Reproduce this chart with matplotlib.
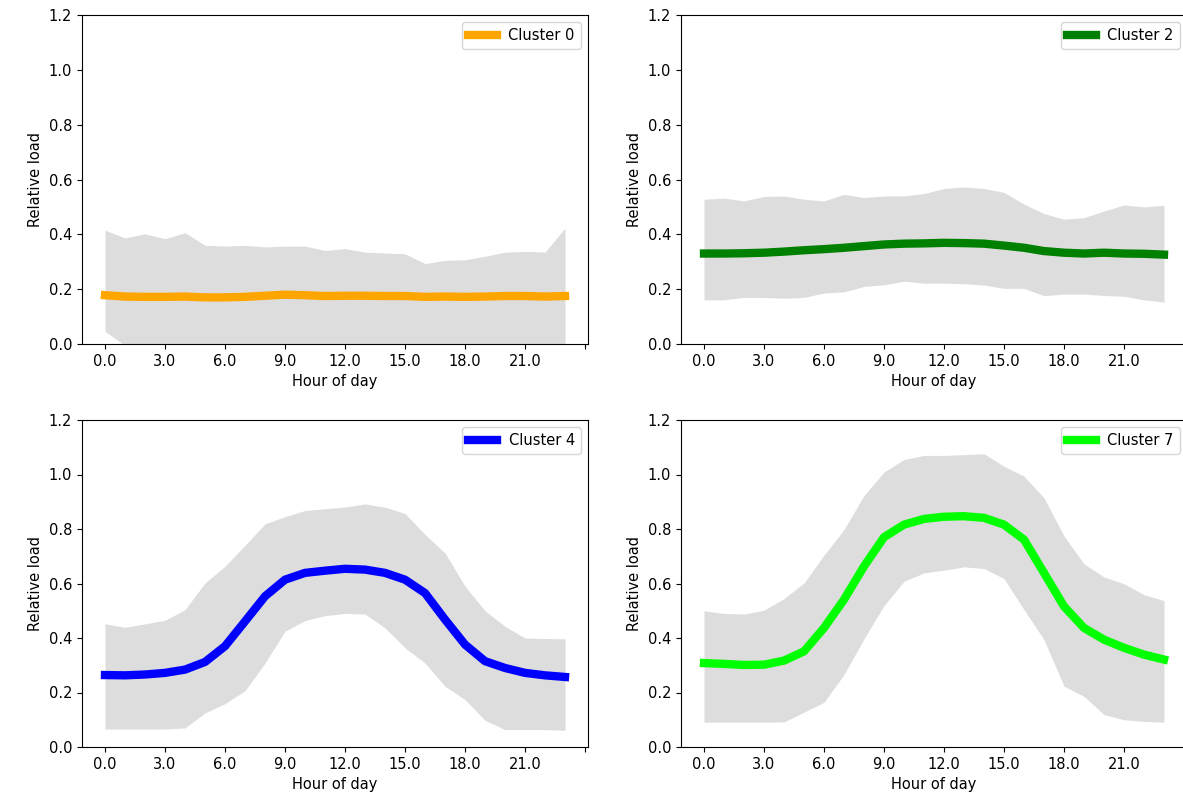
import numpy as np
import matplotlib
matplotlib.use('Agg')
import matplotlib.pyplot as plt

plt.rcParams['font.size'] = 10.5

hours = list(range(24))

# Cluster 0
mean_c0 = [0.178, 0.173, 0.172, 0.172, 0.173, 0.170, 0.170, 0.172, 0.176, 0.180, 0.178, 0.175,
           0.176, 0.176, 0.175, 0.175, 0.172, 0.173, 0.172, 0.173, 0.175, 0.175, 0.173, 0.175]
upper_c0 = [0.415, 0.387, 0.402, 0.384, 0.406, 0.360, 0.357, 0.360, 0.354, 0.357, 0.357, 0.341,
            0.348, 0.335, 0.332, 0.329, 0.293, 0.305, 0.307, 0.320, 0.335, 0.338, 0.335, 0.423]
lower_c0 = [0.046, -0.005, -0.02, -0.02, -0.02, -0.02, -0.02, -0.02, -0.02, -0.02, -0.02, -0.02,
            -0.02, -0.02, -0.02, -0.02, -0.02, -0.02, -0.02, -0.02, -0.02, -0.02, -0.02, -0.02]

# Cluster 2
mean_c2 = [0.330, 0.330, 0.331, 0.333, 0.337, 0.342, 0.346, 0.351, 0.357, 0.363, 0.366, 0.367,
           0.369, 0.368, 0.366, 0.359, 0.351, 0.339, 0.333, 0.330, 0.333, 0.330, 0.329, 0.326]
upper_c2 = [0.528, 0.532, 0.522, 0.538, 0.540, 0.528, 0.522, 0.546, 0.534, 0.540, 0.540, 0.549,
            0.567, 0.573, 0.567, 0.553, 0.510, 0.476, 0.455, 0.461, 0.485, 0.507, 0.500, 0.506]
lower_c2 = [0.161, 0.161, 0.170, 0.170, 0.167, 0.170, 0.186, 0.190, 0.210, 0.216, 0.229, 0.222,
            0.222, 0.220, 0.215, 0.203, 0.203, 0.176, 0.182, 0.182, 0.177, 0.174, 0.161, 0.153]

# Cluster 4
mean_c4 = [0.264, 0.263, 0.266, 0.272, 0.284, 0.312, 0.370, 0.461, 0.553, 0.614, 0.639, 0.647,
           0.654, 0.651, 0.639, 0.614, 0.565, 0.468, 0.376, 0.315, 0.290, 0.272, 0.263, 0.257]
upper_c4 = [0.452, 0.439, 0.452, 0.465, 0.504, 0.602, 0.663, 0.740, 0.819, 0.845, 0.868, 0.874,
            0.881, 0.892, 0.880, 0.857, 0.780, 0.712, 0.590, 0.500, 0.443, 0.400, 0.398, 0.397]
lower_c4 = [0.066, 0.066, 0.066, 0.066, 0.070, 0.125, 0.159, 0.207, 0.308, 0.425, 0.464, 0.482,
            0.490, 0.488, 0.437, 0.364, 0.308, 0.223, 0.174, 0.098, 0.064, 0.064, 0.064, 0.061]

# Cluster 7
mean_c7 = [0.308, 0.305, 0.301, 0.302, 0.317, 0.351, 0.437, 0.541, 0.663, 0.770, 0.816, 0.837,
           0.845, 0.847, 0.841, 0.816, 0.761, 0.639, 0.516, 0.437, 0.394, 0.364, 0.339, 0.321]
upper_c7 = [0.500, 0.490, 0.488, 0.502, 0.545, 0.602, 0.704, 0.798, 0.923, 1.009, 1.055, 1.070,
            1.070, 1.073, 1.076, 1.030, 0.994, 0.914, 0.774, 0.672, 0.624, 0.599, 0.559, 0.537]
lower_c7 = [0.091, 0.091, 0.091, 0.091, 0.092, 0.128, 0.164, 0.266, 0.397, 0.519, 0.608, 0.639,
            0.649, 0.661, 0.655, 0.618, 0.504, 0.394, 0.223, 0.186, 0.119, 0.100, 0.094, 0.091]

clusters = ['Cluster 0', 'Cluster 2', 'Cluster 4', 'Cluster 7']
colors = ['orange', 'green', 'blue', 'lime']
means = [mean_c0, mean_c2, mean_c4, mean_c7]
uppers = [upper_c0, upper_c2, upper_c4, upper_c7]
lowers = [lower_c0, lower_c2, lower_c4, lower_c7]

W, H = 1183, 793
fig = plt.figure(figsize=(W / 100, H / 100), dpi=100)

# axes boxes in pixels: left, top, right, bottom
boxes = [(82, 15, 588, 344), (681, 15, 1187, 344),
         (82, 420, 588, 747), (681, 420, 1187, 747)]

xticks = list(range(0, 25, 3))
xticklabels = ['%.1f' % t for t in xticks[:-1]] + ['']

for i in range(4):
    l, t, r, b = boxes[i]
    ax = fig.add_axes([l / W, 1 - b / H, (r - l) / W, (b - t) / H])
    ax.fill_between(hours, lowers[i], uppers[i], color='#dddddd', linewidth=0)
    ax.plot(hours, means[i], color=colors[i], linewidth=6, label=clusters[i])
    ax.set_xlim(-1.15, 24.15)
    ax.set_ylim(0, 1.2)
    ax.set_xticks(xticks)
    ax.set_xticklabels(xticklabels)
    ax.set_yticks(np.arange(0, 1.21, 0.2))
    ax.set_xlabel('Hour of day')
    ax.set_ylabel('Relative load')
    ax.legend(loc='upper right')

fig.savefig('out.png', dpi=100)
